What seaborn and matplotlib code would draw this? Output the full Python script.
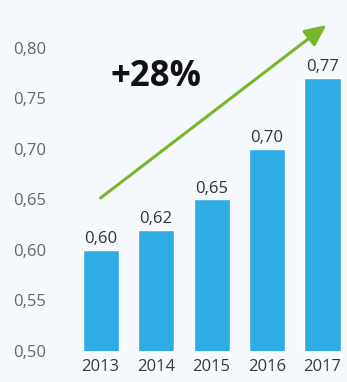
import matplotlib
matplotlib.use("Agg")
import matplotlib.pyplot as plt
import seaborn as sns
import pandas as pd
from matplotlib.ticker import FuncFormatter

# Data
years = ["2013", "2014", "2015", "2016", "2017"]
values = [0.60, 0.62, 0.65, 0.70, 0.77]
y_ticks = [0.50, 0.55, 0.60, 0.65, 0.70, 0.75, 0.80]
growth_label = "+28%"

df = pd.DataFrame({"year": years, "value": values})

sns.set_style("white")
plt.rcParams["font.family"] = ["Open Sans", "DejaVu Sans"]

bg = "#F5F9FD"
fig = plt.figure(figsize=(3.47, 3.82), dpi=100, facecolor=bg)
ax = fig.add_axes([0.21, 0.0812, 0.785, 0.9188])
ax.set_facecolor(bg)

sns.barplot(data=df, x="year", y="value", color="#2EADE4", width=0.65,
            saturation=1, ax=ax)

ax.set_xlim(-0.5, 4.41)
ax.set_ylim(0.5, 0.8475)
ax.set_yticks(y_ticks)
ax.yaxis.set_major_formatter(FuncFormatter(lambda v, p: f"{v:.2f}".replace(".", ",")))
ax.tick_params(axis="y", length=0, pad=19, labelsize=12, labelcolor="#666666")
ax.tick_params(axis="x", length=0, pad=6, labelsize=12, labelcolor="#3A3A3A")
ax.set_xlabel("")
ax.set_ylabel("")
sns.despine(ax=ax, left=True, bottom=True)

# Value labels above the bars
for container in ax.containers:
    ax.bar_label(container, labels=[f"{v:.2f}".replace(".", ",") for v in values],
                 padding=2, fontsize=12, color="#333333")

# Growth arrow and label
ax.annotate("", xy=(4.07, 0.8228), xytext=(0, 0.6515),
            arrowprops=dict(arrowstyle="-|>,head_length=1.3,head_width=0.6",
                            color="#76B82A", lw=2.2, shrinkA=0, shrinkB=0),
            annotation_clip=False)
ax.text(1.0, 0.771, growth_label, ha="center", va="center", fontsize=25,
        fontweight="bold", color="#111111")

fig.savefig("out.png", dpi=100, facecolor=bg)
